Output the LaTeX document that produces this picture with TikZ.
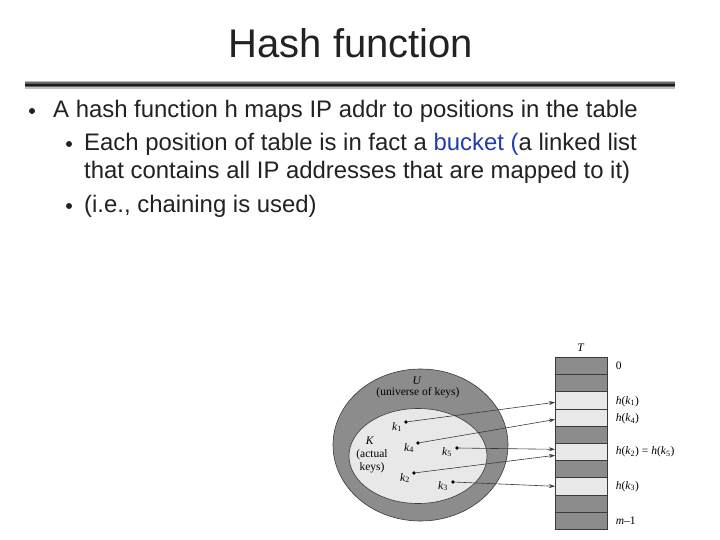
\documentclass[tikz,border=0pt]{standalone}
\usepackage{fontspec}
\setmainfont{Liberation Sans}
\newfontfamily\serifdiag{Liberation Serif}
\usetikzlibrary{arrows.meta,shapes.geometric}
\definecolor{txt}{HTML}{222222}
\definecolor{bluetxt}{HTML}{1F3CB0}
\definecolor{darkfill}{HTML}{8C8C8C}
\definecolor{lightfill}{HTML}{E8E8E8}
\definecolor{edge}{HTML}{3A3A3A}
\newcommand{\kk}[1]{\textit{k}\textsubscript{#1}}
\begin{document}
\begin{tikzpicture}[x=1pt,y=-1pt,
  bodytext/.style={anchor=base west, inner sep=0pt, text=txt, font=\fontsize{23.9}{28}\selectfont},
  bulletdot/.style={circle, fill=txt, inner sep=0pt, minimum size=6pt},
  row/.style={rectangle, draw=edge, line width=0.6pt, minimum width=52pt, minimum height=17.2pt, inner sep=0pt, anchor=north west},
  dk/.style={row, fill=darkfill},
  lt/.style={row, fill=lightfill},
  keydot/.style={circle, fill=black, inner sep=0pt, minimum size=3.8pt},
  keylab/.style={inner sep=0pt, font=\fontsize{11.5}{12}\serifdiag},
  difflab/.style={inner sep=0pt, font=\fontsize{11.5}{13}\serifdiag, align=center},
  hlab/.style={anchor=west, inner sep=0pt, font=\fontsize{11.5}{12}\serifdiag},
  maparrow/.style={draw=edge, line width=0.6pt, -{Stealth[length=6pt,width=4pt]}},
  setshape/.style={ellipse, draw=edge, line width=0.6pt, inner sep=0pt}
]
\useasboundingbox (0,0) rectangle (720,540);
\fill[white] (0,0) rectangle (720,540);

% title and rule
\node[anchor=base, inner sep=0pt, font=\fontsize{40}{48}\selectfont, text=txt] (title) at (351,58) {Hash function};
\coordinate (barL) at (25,85);
\coordinate (barR) at (675,85);
\draw[line width=8pt, black!25] (barL) -- (barR);
\draw[line width=5pt, black!60] (barL) -- (barR);
\draw[line width=2.5pt, black!90] (barL) -- (barR);

% bullets
\node[bulletdot] (b1) at (32,111) {};
\node[bodytext] (l1) at (53,118) {A hash function h maps IP addr to positions in the table};
\node[bulletdot] (b2) at (69,144) {};
\node[bodytext] (l2) at (84,151) {Each position of table is in fact a {\color{bluetxt}bucket (}a linked list};
\node[bodytext] (l3) at (84,179) {that contains all IP addresses that are mapped to it)};
\node[bulletdot] (b3) at (69,206) {};
\node[bodytext] (l4) at (84,212) {(i.e., chaining is used)};

% sets
\node[setshape, fill=darkfill, minimum width=175pt, minimum height=152pt] (U) at (420.5,445) {};
\node[setshape, fill=lightfill, minimum width=138pt, minimum height=95pt] (K) at (418,456) {};
\node[keylab] (Ul) at (417,381) {\textit{U}};
\node[difflab] (Ut) at (418,393) {(universe of keys)};
\node[keylab] (Kl) at (370,441) {\textit{K}};
\node[difflab] (Kt) at (372,461) {(actual\\keys)};

% table
\node[keylab] (Tl) at (581,348) {\textit{T}};
\node[dk] (r0) at (555,357.0) {};
\node[dk] (r1) at (555,374.2) {};
\node[lt] (r2) at (555,391.4) {};
\node[lt] (r3) at (555,408.6) {};
\node[dk] (r4) at (555,425.8) {};
\node[lt] (r5) at (555,443.0) {};
\node[dk] (r6) at (555,460.2) {};
\node[lt] (r7) at (555,477.4) {};
\node[dk] (r8) at (555,494.6) {};
\node[dk] (r9) at (555,511.8) {};

\node[hlab] (h0) at ([xshift=8pt]r0.east) {0};
\node[hlab] (h1) at ([xshift=8pt,yshift=-1pt]r2.east) {\textit{h}(\kk{1})};
\node[hlab] (h4) at ([xshift=8pt,yshift=-1pt]r3.east) {\textit{h}(\kk{4})};
\node[hlab] (h2) at ([xshift=8pt]r5.east) {\textit{h}(\kk{2}) = \textit{h}(\kk{5})};
\node[hlab] (h3) at ([xshift=8pt]r7.east) {\textit{h}(\kk{3})};
\node[hlab] (hm) at ([xshift=8pt]r9.east) {\textit{m}–1};

% keys
\node[keydot] (k1) at (406,422) {};
\node[keydot] (k4) at (418,443) {};
\node[keydot] (k5) at (457,448) {};
\node[keydot] (k2) at (414,473) {};
\node[keydot] (k3) at (453,482) {};
\node[keylab] (k1l) at (397,427) {\kk{1}};
\node[keylab] (k4l) at (409,448) {\kk{4}};
\node[keylab] (k5l) at (447,452) {\kk{5}};
\node[keylab] (k2l) at (405,478) {\kk{2}};
\node[keylab] (k3l) at (443,486) {\kk{3}};

% mapping arrows
\draw[maparrow] (k1) -- ([yshift=-2pt]r2.west);
\draw[maparrow] (k4) -- ([yshift=-2pt]r3.west);
\draw[maparrow] (k5) -- ([yshift=2.6pt]r5.west);
\draw[maparrow] (k2) -- ([yshift=-3.4pt]r5.west);
\draw[maparrow] (k3) -- (r7.west);
\end{tikzpicture}
\end{document}
